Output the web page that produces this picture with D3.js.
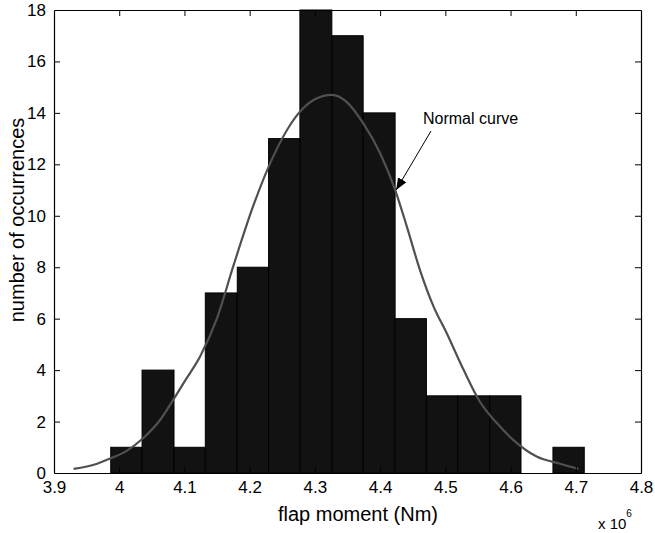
<!DOCTYPE html>
<html>
<head>
<meta charset="utf-8">
<script src="https://cdn.jsdelivr.net/npm/d3@7/dist/d3.min.js"></script>
<style>
  html, body { margin: 0; padding: 0; background: #fff; }
  svg text { font-family: "Liberation Sans", Arial, Helvetica, sans-serif; fill: #000; }
</style>
</head>
<body>
<svg id="chart" width="655" height="533"></svg>
<script>
// Histogram bin edges (flap moment, units of 1e6 Nm)
const binEdges = [3.987, 4.035, 4.084, 4.132, 4.181, 4.229, 4.277, 4.326,
                  4.374, 4.423, 4.471, 4.519, 4.568, 4.616, 4.665, 4.713];
// Occurrences in each bin
const binCounts = [1, 4, 1, 7, 8, 13, 18, 17, 14, 6, 3, 3, 3, 0, 1];

// Fitted normal curve, sampled points
const curveX = [3.930, 3.965, 3.986, 4.012, 4.037, 4.063, 4.083, 4.101, 4.124,
                4.150, 4.175, 4.206, 4.236, 4.262, 4.282, 4.298, 4.326, 4.349,
                4.374, 4.400, 4.423, 4.441, 4.461, 4.482, 4.502, 4.528,
                4.553, 4.579, 4.604, 4.640, 4.676, 4.704];
const curveY = [0.16, 0.35, 0.56, 0.87, 1.36, 2.07, 2.85, 3.59, 4.53,
                6.02, 8.05, 10.42, 12.30, 13.53, 14.18, 14.50, 14.70,
                14.42, 13.60, 12.43, 11.01, 9.58, 7.90, 6.47, 5.44, 4.01,
                2.77, 1.94, 1.29, 0.64, 0.36, 0.16];

// Axis ticks
const xTicks = [3.9, 4.0, 4.1, 4.2, 4.3, 4.4, 4.5, 4.6, 4.7, 4.8];
const xTickLabels = ["3.9", "4", "4.1", "4.2", "4.3", "4.4", "4.5", "4.6", "4.7", "4.8"];
const yTicks = [0, 2, 4, 6, 8, 10, 12, 14, 16, 18];

// Annotation
const noteText = "Normal curve";
const noteTarget = [4.423, 11.0];

const W = 655, H = 533;
const margin = { top: 10, right: 14, bottom: 60, left: 54 };
const iw = W - margin.left - margin.right;
const ih = H - margin.top - margin.bottom;

const svg = d3.select("#chart");
const g = svg.append("g").attr("transform", `translate(${margin.left},${margin.top})`);

const x = d3.scaleLinear().domain([3.9, 4.8]).range([0, iw]);
const y = d3.scaleLinear().domain([0, 18]).range([ih, 0]);

// Bars
const bins = binCounts.map((c, i) => ({ x0: binEdges[i], x1: binEdges[i + 1], count: c }));
g.append("g").selectAll("rect")
  .data(bins.filter(d => d.count > 0))
  .join("rect")
  .attr("x", d => x(d.x0))
  .attr("y", d => y(d.count))
  .attr("width", d => x(d.x1) - x(d.x0))
  .attr("height", d => y(0) - y(d.count))
  .attr("fill", "#121212")
  .attr("stroke", "#000")
  .attr("stroke-width", 1);

// Normal curve
const curvePts = curveX.map((v, i) => [v, curveY[i]]);
g.append("path")
  .datum(curvePts)
  .attr("fill", "none")
  .attr("stroke", "#505050")
  .attr("stroke-width", 2.2)
  .attr("stroke-linejoin", "round")
  .attr("d", d3.line().x(d => x(d[0])).y(d => y(d[1])).curve(d3.curveMonotoneX));

// Axes: box with inward ticks on all sides
const tickLen = 6;
const axB = g.append("g").attr("transform", `translate(0,${ih})`)
  .call(d3.axisBottom(x).tickValues(xTicks).tickSizeInner(-tickLen).tickSizeOuter(0)
        .tickFormat((d, i) => xTickLabels[i]).tickPadding(8));
const axT = g.append("g")
  .call(d3.axisTop(x).tickValues(xTicks).tickSizeInner(-tickLen).tickSizeOuter(0).tickFormat(""));
const axL = g.append("g")
  .call(d3.axisLeft(y).tickValues(yTicks).tickSizeInner(-tickLen).tickSizeOuter(0).tickPadding(8));
const axR = g.append("g").attr("transform", `translate(${iw},0)`)
  .call(d3.axisRight(y).tickValues(yTicks).tickSizeInner(-tickLen).tickSizeOuter(0).tickFormat(""));

[axB, axT, axL, axR].forEach(a => {
  a.select(".domain").attr("stroke", "#000").attr("stroke-width", 1.2);
  a.selectAll(".tick line").attr("stroke", "#000").attr("stroke-width", 1);
  a.selectAll(".tick text").attr("font-size", 17).attr("fill", "#000")
    .style("font-family", '"Liberation Sans", Arial, sans-serif');
});
// hide ticks at the corners so they don't double the frame
[axB, axT].forEach(a => a.selectAll(".tick line").filter(d => d === 3.9 || d === 4.8).remove());
[axL, axR].forEach(a => a.selectAll(".tick line").filter(d => d === 0 || d === 18).remove());

// Axis titles
svg.append("text")
  .attr("x", 358).attr("y", 521)
  .attr("text-anchor", "middle")
  .attr("font-size", 20)
  .text("flap moment (Nm)");

svg.append("text")
  .attr("transform", "translate(24,220) rotate(-90)")
  .attr("text-anchor", "middle")
  .attr("font-size", 20)
  .text("number of occurrences");

// Exponent note
const expo = svg.append("text").attr("x", 598).attr("y", 529).attr("font-size", 15);
expo.append("tspan").text("x 10");
expo.append("tspan").attr("dy", -12).attr("font-size", 10).text("6");

// Annotation with arrow
const defs = svg.append("defs");
defs.append("marker")
  .attr("id", "arrowhead")
  .attr("viewBox", "0 0 10 10")
  .attr("refX", 10).attr("refY", 5)
  .attr("markerWidth", 12).attr("markerHeight", 12)
  .attr("markerUnits", "userSpaceOnUse")
  .attr("orient", "auto")
  .append("path").attr("d", "M0,1 L10,5 L0,9 Z").attr("fill", "#000");

g.append("text")
  .attr("x", 423 - margin.left).attr("y", 124 - margin.top)
  .attr("font-size", 16)
  .text(noteText);

g.append("line")
  .attr("x1", 431 - margin.left).attr("y1", 131 - margin.top)
  .attr("x2", x(noteTarget[0]) + 1).attr("y2", y(noteTarget[1]))
  .attr("stroke", "#000").attr("stroke-width", 1)
  .attr("marker-end", "url(#arrowhead)");
</script>
</body>
</html>
